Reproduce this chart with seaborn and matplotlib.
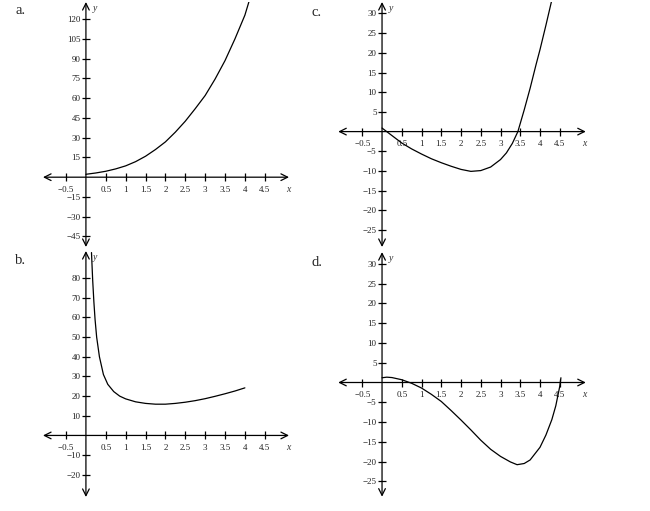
import numpy as np
import matplotlib
matplotlib.use('Agg')
import matplotlib.pyplot as plt
import seaborn as sns

# curve readings (x, y) for each panel
a_x = [0, 0.25, 0.5, 0.75, 1, 1.25, 1.5, 1.75, 2, 2.25, 2.5, 2.75, 3, 3.25, 3.5, 3.75, 4, 4.1]
a_y = [2.2, 3.2, 4.5, 6.3, 8.6, 11.8, 15.9, 21.0, 26.8, 34.2, 42.5, 52.0, 62.0, 74.5, 88.5, 105.0, 123.0, 133.0]

b_x = [0.14, 0.17, 0.2, 0.23, 0.27, 0.34, 0.44, 0.55, 0.7, 0.85, 1, 1.25, 1.5, 1.75, 2,
       2.25, 2.5, 2.75, 3, 3.25, 3.5, 3.75, 4]
b_y = [93, 79, 68, 59, 50, 40, 31, 26, 22.3, 20, 18.6, 17.1, 16.3, 15.9, 15.9,
       16.3, 16.9, 17.7, 18.7, 19.9, 21.2, 22.6, 24.2]

c_x = [0, 0.25, 0.5, 0.75, 1, 1.25, 1.5, 1.75, 2, 2.25, 2.5, 2.75, 3, 3.15, 3.3,
       3.44, 3.6, 3.75, 3.9, 4.0, 4.15, 4.29]
c_y = [0.9, -1.0, -2.9, -4.4, -5.7, -6.9, -7.9, -8.8, -9.6, -10.1, -9.9, -9.0, -7.1, -5.4, -3.0,
       0, 5.5, 11.0, 17.0, 20.8, 27.0, 33.0]

d_x = [0, 0.12, 0.25, 0.5, 0.75, 1, 1.25, 1.5, 1.75, 2, 2.25, 2.5, 2.75, 3, 3.25, 3.42,
       3.6, 3.75, 4, 4.15, 4.3, 4.4, 4.5, 4.53]
d_y = [1.2, 1.35, 1.25, 0.7, -0.2, -1.4, -3.0, -4.8, -7.1, -9.5, -12.0, -14.6, -16.9, -18.7, -20.1, -20.8,
       -20.5, -19.6, -16.4, -13.3, -9.4, -5.9, -1.0, 1.2]

# ticks
x_ticks = [-0.5, 0.5, 1, 1.5, 2, 2.5, 3, 3.5, 4, 4.5]
a_yticks = [-45, -30, -15, 15, 30, 45, 60, 75, 90, 105, 120]
b_yticks = [-20, -10, 10, 20, 30, 40, 50, 60, 70, 80]
cd_yticks = [-25, -20, -15, -10, -5, 5, 10, 15, 20, 25, 30]

sns.set_theme(style='white')
plt.rcParams['font.family'] = ['Liberation Serif', 'DejaVu Serif']

W, H = 650, 511
fig = plt.figure(figsize=(W / 100, H / 100), dpi=100)


def fmt(v):
    s = ('%g' % v)
    return s.replace('-', '\u2212')


def draw_panel(rect, xs, ys, yticks, xlim, ylim, letter, letter_px):
    ax = fig.add_axes(rect)
    sns.lineplot(x=xs, y=ys, ax=ax, color='black', linewidth=0.9,
                 sort=False, estimator=None)
    ax.set_xlim(*xlim)
    ax.set_ylim(*ylim)
    ax.set_facecolor('none')

    # axes through the origin, drawn as double arrows
    for side in ['top', 'right']:
        ax.spines[side].set_visible(False)
    ax.spines['left'].set_position(('data', 0))
    ax.spines['bottom'].set_position(('data', 0))
    ax.spines['left'].set_visible(False)
    ax.spines['bottom'].set_visible(False)
    arrow = dict(arrowstyle='<->', color='black', lw=0.9, shrinkA=0, shrinkB=0)
    ax.annotate('', xy=(xlim[1], 0), xytext=(xlim[0], 0), arrowprops=arrow,
                annotation_clip=False)
    ax.annotate('', xy=(0, ylim[1]), xytext=(0, ylim[0]), arrowprops=arrow,
                annotation_clip=False)

    ax.set_xticks(x_ticks)
    ax.set_xticklabels([fmt(v) for v in x_ticks])
    ax.set_yticks(yticks)
    ax.set_yticklabels([fmt(v) for v in yticks])
    ax.tick_params(axis='both', which='major', direction='inout', length=5.8,
                   width=0.9, color='black', labelsize=6.5, labelcolor='#222222')
    ax.tick_params(axis='x', pad=3.5)
    ax.tick_params(axis='y', pad=1)
    ax.xaxis.set_ticks_position('bottom')
    ax.yaxis.set_ticks_position('left')
    ax.grid(False)
    ax.set_xlabel('')
    ax.set_ylabel('')

    # axis names
    ax.annotate('y', xy=(0, ylim[1]), xytext=(7, -6), textcoords='offset pixels',
                fontsize=7, style='italic', color='#333333', ha='left', va='center',
                annotation_clip=False)
    ax.annotate('x', xy=(xlim[1], 0), xytext=(-1, -12), textcoords='offset pixels',
                fontsize=7, style='italic', color='#333333', ha='center', va='center',
                annotation_clip=False)

    fig.text(letter_px[0] / W, 1 - letter_px[1] / H, letter, fontsize=10.5,
             ha='center', va='center')
    return ax


draw_panel([43 / W, 1 - 247 / H, 246 / W, 245 / H], a_x, a_y, a_yticks,
           (-1.08, 5.11), (-53, 133), 'a.', (21, 10))
draw_panel([43 / W, 1 - 497 / H, 246 / W, 246 / H], b_x, b_y, b_yticks,
           (-1.08, 5.11), (-31.3, 93.8), 'b.', (21, 260))
draw_panel([338.2 / W, 1 - 247 / H, 247.6 / W, 245 / H], c_x, c_y, cd_yticks,
           (-1.11, 5.16), (-29.3, 32.9), 'c.', (317, 12))
draw_panel([338.2 / W, 1 - 496.7 / H, 247.6 / W, 244.6 / H], d_x, d_y, cd_yticks,
           (-1.11, 5.16), (-28.9, 33.0), 'd.', (317, 262))

fig.savefig('out.png', dpi=100, facecolor='white')
